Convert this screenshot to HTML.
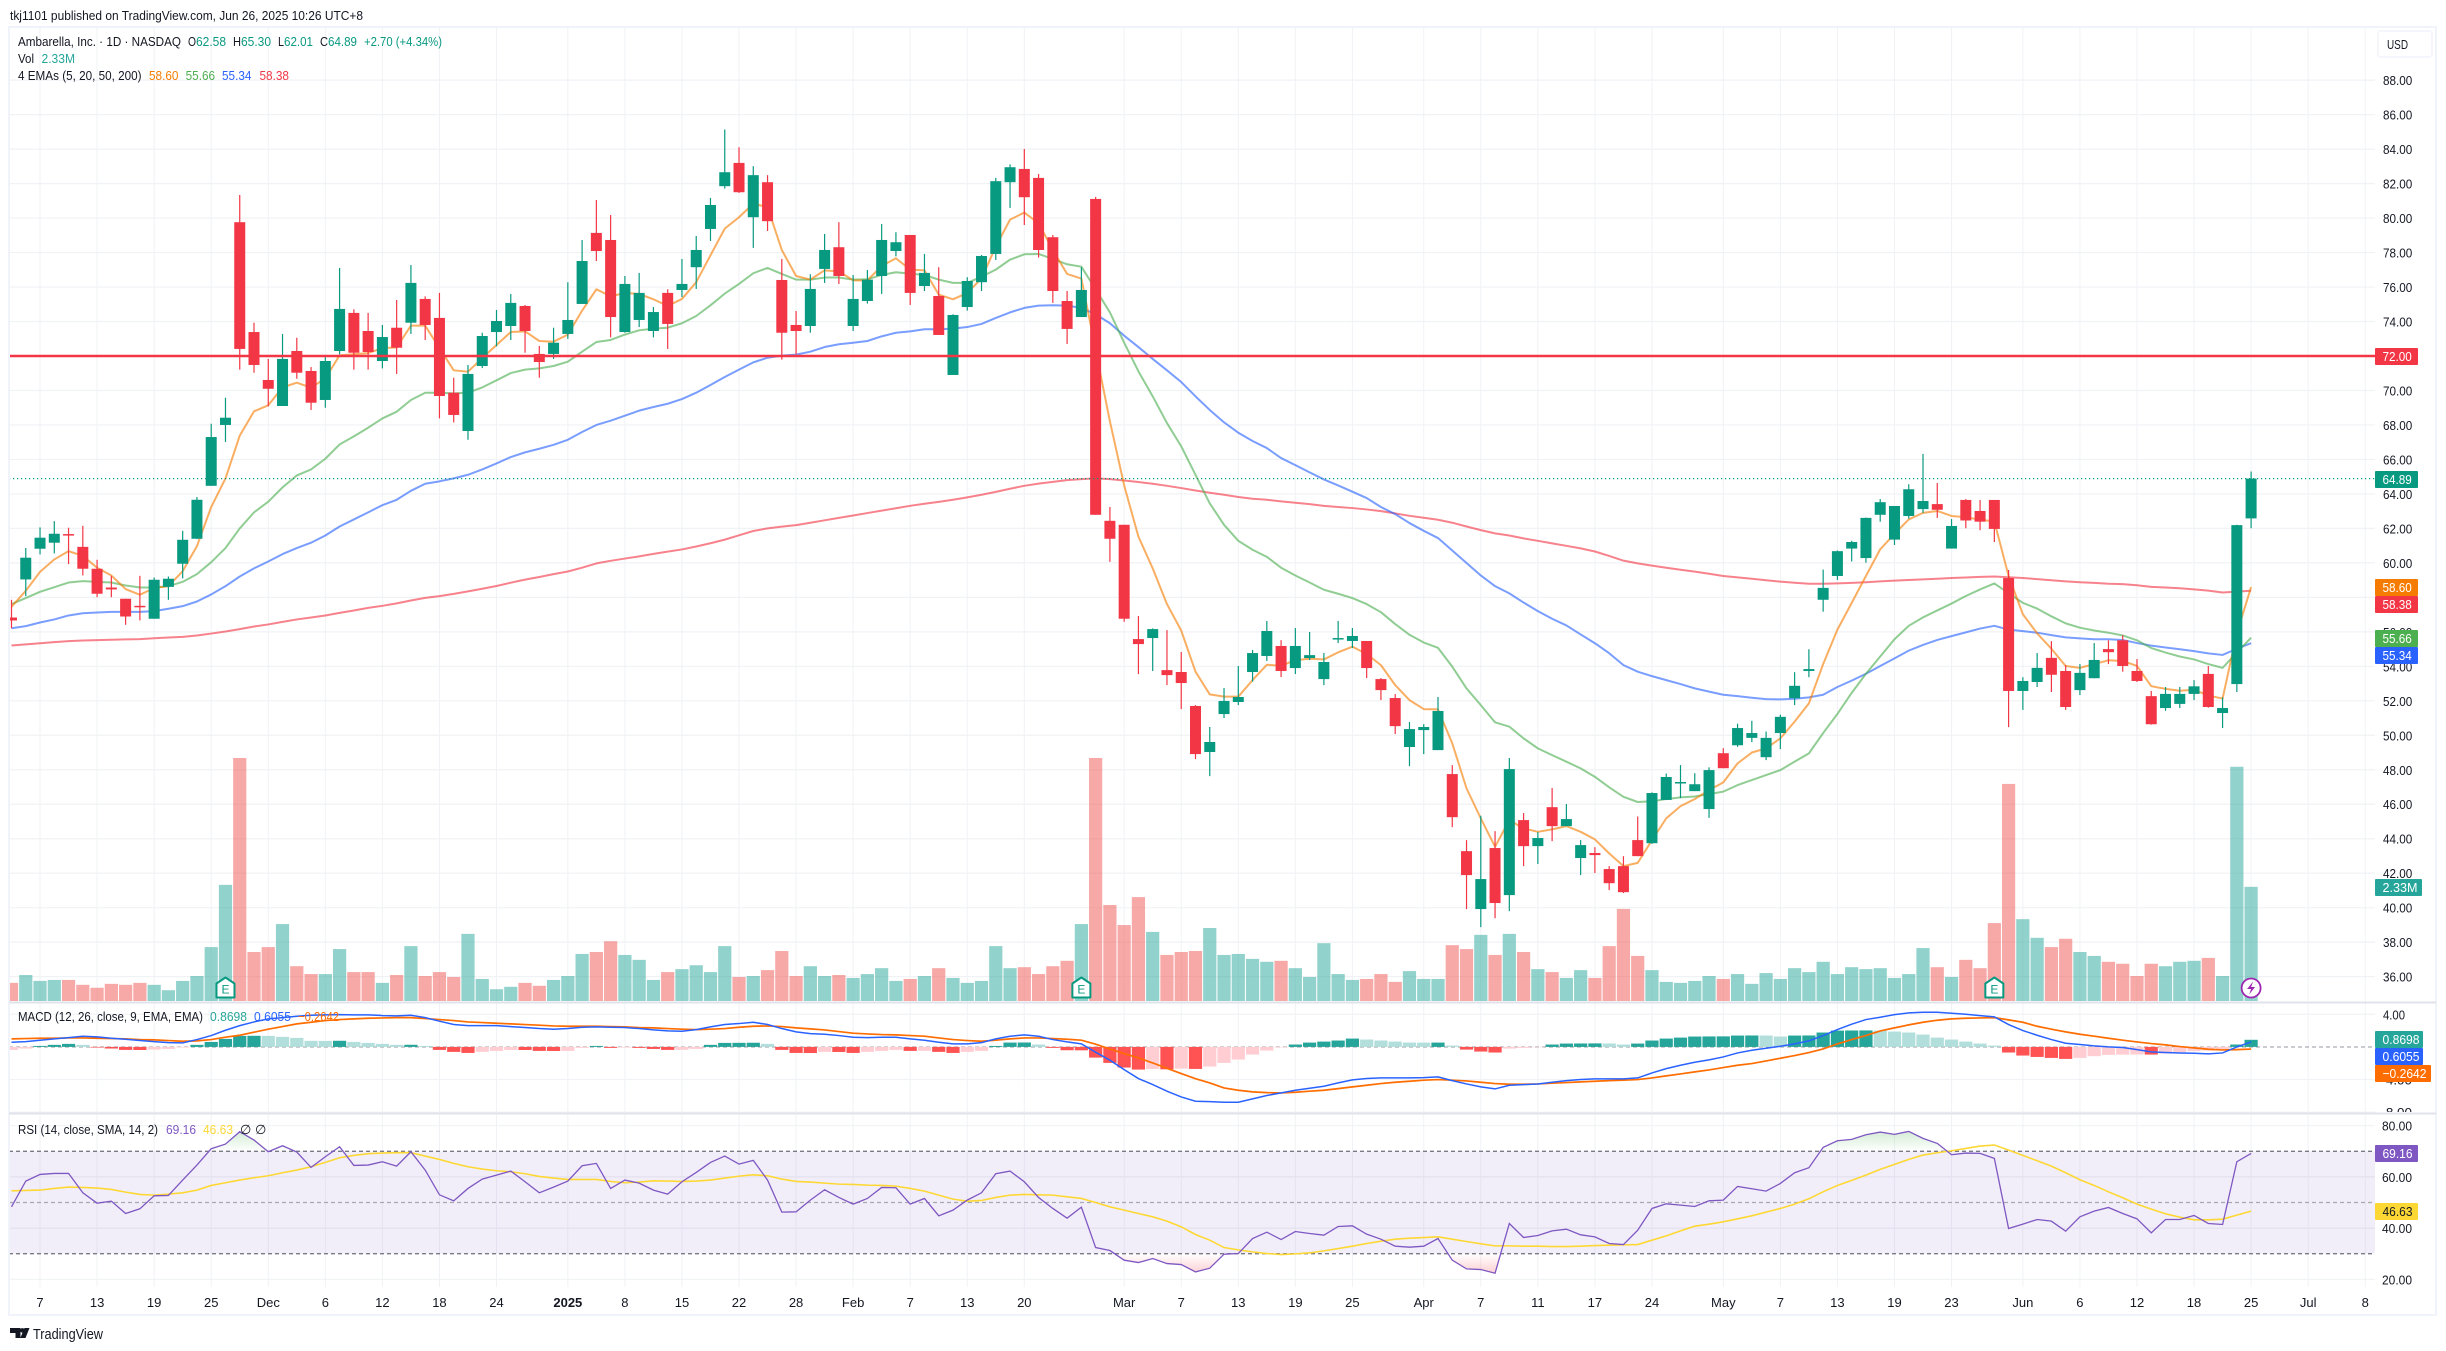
<!DOCTYPE html>
<html lang="en">
<head>
<meta charset="utf-8">
<title>Ambarella, Inc. daily chart</title>
<style>
html,body{margin:0;padding:0;background:#fff;}
body{width:2446px;height:1351px;overflow:hidden;}
svg{display:block;font-family:"Liberation Sans",sans-serif;}
text{fill:#131722;font-size:13px;}
</style>
</head>
<body>
<svg id="chart" xmlns="http://www.w3.org/2000/svg" width="2446" height="1351" viewBox="0 0 2446 1351">
  <defs>
    <clipPath id="clip-price"><rect x="9" y="28" width="2366" height="973"/></clipPath>
    <clipPath id="clip-macd"><rect x="9" y="1004" width="2366" height="108"/></clipPath>
    <clipPath id="clip-rsi"><rect x="9" y="1115" width="2366" height="172"/></clipPath>
    <clipPath id="clip-macd-axis"><rect x="2375" y="1004" width="60" height="108"/></clipPath>
    <clipPath id="clip-ob"><rect x="9" y="1115" width="2366" height="36.3"/></clipPath>
    <clipPath id="clip-os"><rect x="9" y="1253.7" width="2366" height="33"/></clipPath>
    <linearGradient id="grad-ob" gradientUnits="userSpaceOnUse" x1="0" y1="1128" x2="0" y2="1151.3"><stop offset="0" stop-color="#4caf50" stop-opacity=".28"/><stop offset="1" stop-color="#4caf50" stop-opacity="0"/></linearGradient>
    <linearGradient id="grad-os" gradientUnits="userSpaceOnUse" x1="0" y1="1253.7" x2="0" y2="1277"><stop offset="0" stop-color="#f23645" stop-opacity="0"/><stop offset="1" stop-color="#f23645" stop-opacity=".28"/></linearGradient>
  </defs>
  <rect x="0" y="0" width="2446" height="1351" fill="#ffffff"/>
  <text x="10" y="20" textLength="353" lengthAdjust="spacingAndGlyphs">tkj1101 published on TradingView.com, Jun 26, 2025 10:26 UTC+8</text>

  <g id="grid"></g>
  <rect x="9" y="1151.3" width="2366" height="102.4" fill="#7e57c2" fill-opacity=".1"/>

  <g id="volume" clip-path="url(#clip-price)"></g>
  <g id="emas" clip-path="url(#clip-price)"></g>
  <g id="candles" clip-path="url(#clip-price)"></g>
  <line x1="9" x2="2375" y1="478.6" y2="478.6" stroke="#089981" stroke-width="1.2" stroke-dasharray="1.2 2.8"/>
  <line x1="9" x2="2375" y1="356" y2="356" stroke="#f23645" stroke-width="2.5"/>

  <line x1="9" x2="2375" y1="1047" y2="1047" stroke="#9598a1" stroke-width="1" stroke-dasharray="4 3"/>
  <g id="macd" clip-path="url(#clip-macd)"></g>

  <line x1="9" x2="2375" y1="1151.3" y2="1151.3" stroke="#787b86" stroke-width="1.3" stroke-dasharray="4 3"/>
  <line x1="9" x2="2375" y1="1202.5" y2="1202.5" stroke="#a8a9b0" stroke-width="1.2" stroke-dasharray="4 3"/>
  <line x1="9" x2="2375" y1="1253.7" y2="1253.7" stroke="#787b86" stroke-width="1.3" stroke-dasharray="4 3"/>
  <g id="rsi" clip-path="url(#clip-rsi)"></g>

  <g id="markers"></g>

  <rect x="9" y="27" width="2427" height="1288" fill="none" stroke="#f0f3fa" stroke-width="2"/>
  <line x1="9" x2="2436" y1="1002.5" y2="1002.5" stroke="#e0e3eb" stroke-width="2"/>
  <line x1="9" x2="2436" y1="1113.5" y2="1113.5" stroke="#e0e3eb" stroke-width="2"/>

  <g id="axes"></g>

  <g>
    <rect x="2378" y="31" width="54" height="26" rx="3" fill="#fff" stroke="#f0f3fa" stroke-width="1.5"/>
    <text x="2387" y="49" textLength="21" lengthAdjust="spacingAndGlyphs">USD</text>
  </g>

  <g>
    <text x="18" y="46" textLength="163" lengthAdjust="spacingAndGlyphs">Ambarella, Inc. · 1D · NASDAQ</text>
    <text x="188" y="46" textLength="8" lengthAdjust="spacingAndGlyphs">O</text>
    <text x="196" y="46" textLength="30" lengthAdjust="spacingAndGlyphs" style="fill:#089981">62.58</text>
    <text x="233" y="46" textLength="8" lengthAdjust="spacingAndGlyphs">H</text>
    <text x="241" y="46" textLength="30" lengthAdjust="spacingAndGlyphs" style="fill:#089981">65.30</text>
    <text x="278" y="46" textLength="6" lengthAdjust="spacingAndGlyphs">L</text>
    <text x="284" y="46" textLength="29" lengthAdjust="spacingAndGlyphs" style="fill:#089981">62.01</text>
    <text x="320" y="46" textLength="8" lengthAdjust="spacingAndGlyphs">C</text>
    <text x="328" y="46" textLength="29" lengthAdjust="spacingAndGlyphs" style="fill:#089981">64.89</text>
    <text x="364" y="46" textLength="78" lengthAdjust="spacingAndGlyphs" style="fill:#089981">+2.70 (+4.34%)</text>
    <text x="18" y="63" textLength="16" lengthAdjust="spacingAndGlyphs">Vol</text>
    <text x="41.5" y="63" textLength="33.5" lengthAdjust="spacingAndGlyphs" style="fill:#26a69a">2.33M</text>
    <text x="18" y="80" textLength="123.5" lengthAdjust="spacingAndGlyphs">4 EMAs (5, 20, 50, 200)</text>
    <text x="149" y="80" textLength="29.5" lengthAdjust="spacingAndGlyphs" style="fill:#f57c00">58.60</text>
    <text x="185.6" y="80" textLength="29.5" lengthAdjust="spacingAndGlyphs" style="fill:#4caf50">55.66</text>
    <text x="222" y="80" textLength="29.5" lengthAdjust="spacingAndGlyphs" style="fill:#2962ff">55.34</text>
    <text x="259.5" y="80" textLength="29.5" lengthAdjust="spacingAndGlyphs" style="fill:#f23645">58.38</text>
  </g>
  <g>
    <text x="18" y="1021" textLength="185" lengthAdjust="spacingAndGlyphs">MACD (12, 26, close, 9, EMA, EMA)</text>
    <text x="210" y="1021" textLength="37" lengthAdjust="spacingAndGlyphs" style="fill:#26a69a">0.8698</text>
    <text x="254" y="1021" textLength="37" lengthAdjust="spacingAndGlyphs" style="fill:#2962ff">0.6055</text>
    <text x="298" y="1021" textLength="41" lengthAdjust="spacingAndGlyphs" style="fill:#ff6d00">−0.2642</text>
  </g>
  <g>
    <text x="18" y="1134" textLength="140" lengthAdjust="spacingAndGlyphs">RSI (14, close, SMA, 14, 2)</text>
    <text x="166" y="1134" textLength="30" lengthAdjust="spacingAndGlyphs" style="fill:#7e57c2">69.16</text>
    <text x="203" y="1134" textLength="30" lengthAdjust="spacingAndGlyphs" style="fill:#fdd835">46.63</text>
    <text x="240" y="1134">∅</text>
    <text x="255" y="1134">∅</text>
  </g>

  <g>
    <path d="M10 1328h10.5v10h-5v-5H10z" fill="#131722"/>
    <path d="M24.5 1328h5l-4 10h-5.2z" fill="#131722"/>
    <circle cx="22.4" cy="1330.4" r="2.3" fill="#131722"/>
    <text x="33" y="1339" textLength="70" lengthAdjust="spacingAndGlyphs" style="font-size:15px">TradingView</text>
  </g>
</svg>
<script>
var priceTicks = [88,86,84,82,80,78,76,74,72,70,68,66,64,62,60,58,56,54,52,50,48,46,44,42,40,38,36];
var macdTicks = [4,-4,-8];
var rsiTicks = [80,60,40,20];
var timeLabels = ['7','13','19','25','Dec','6','12','18','24','2025','8','15','22','28','Feb','7','13','20','Mar','7','13','19','25','Apr','7','11','17','24','May','7','13','19','23','Jun','6','12','18','25','Jul','8'];
var timeBars = [2,6,10,14,18,22,26,30,34,39,43,47,51,55,59,63,67,71,78,82,86,90,94,99,103,107,111,115,120,124,128,132,136,141,145,149,153,157,161,165];
var earningsBars = [15,75,139];
var dividendFlashBars = [157];

var opens = [56.83,59.04,60.82,61.17,61.67,60.93,59.66,58.57,57.92,57.51,56.76,58.61,59.95,61.40,64.47,68.00,79.76,73.39,70.61,69.10,
72.29,71.13,69.45,72.29,74.50,73.45,71.71,73.64,73.93,75.31,74.21,69.87,67.65,71.42,73.39,73.74,74.90,72.12,72.12,73.28,
75.02,79.14,78.73,73.39,74.09,73.45,75.66,75.83,77.15,79.37,81.85,83.20,80.05,82.08,76.41,73.80,73.74,77.05,78.31,73.74,
75.19,76.64,78.09,79.02,76.06,75.48,70.90,74.84,76.28,77.92,82.08,82.85,82.33,78.89,75.19,74.26,81.11,62.44,62.21,55.58,
55.64,53.78,53.67,51.70,49.03,51.23,51.93,53.67,54.60,55.18,53.90,54.48,53.26,55.60,55.47,55.47,53.26,52.16,49.32,50.30,
49.14,47.75,43.28,39.92,43.46,40.73,45.08,43.57,45.83,44.73,42.88,43.17,42.24,42.41,43.92,43.74,46.25,47.23,46.76,45.72,
48.96,49.42,49.85,48.73,50.13,52.15,53.73,57.86,59.24,60.83,60.28,62.79,61.35,62.72,63.12,63.41,60.83,63.65,63.01,63.65,
59.12,52.57,53.09,54.49,53.73,52.62,53.31,55.00,55.51,53.73,52.27,51.58,51.82,52.40,53.56,51.29,52.97,62.58];
var highs = [57.86,60.86,62.06,62.42,62.04,62.15,60.18,59.25,57.92,59.25,59.15,59.21,61.86,63.82,68.07,69.58,81.34,73.93,71.83,73.28,
73.06,71.36,71.94,77.11,74.71,74.50,73.80,75.25,77.28,75.46,75.66,70.74,71.48,73.35,74.67,75.60,74.96,72.58,73.64,76.28,
78.73,81.05,80.18,76.64,76.82,74.84,75.87,77.63,78.96,81.17,85.14,84.11,83.01,82.49,77.63,74.61,76.74,79.08,79.76,76.70,
76.99,79.66,79.18,79.02,77.92,77.15,74.42,76.57,77.86,82.33,83.12,84.01,82.56,79.02,75.77,77.15,81.23,63.24,62.21,56.92,
56.20,56.10,54.83,51.75,50.48,52.74,54.02,54.95,56.63,55.52,56.22,55.99,54.77,56.63,56.22,55.47,53.32,52.39,50.77,50.65,
52.22,48.27,43.92,45.33,44.44,48.68,45.49,44.38,46.94,46.01,43.92,43.51,42.41,42.99,45.29,46.69,47.78,48.27,47.80,48.14,
49.25,50.67,50.84,50.22,51.20,53.66,54.99,59.61,60.72,61.28,62.63,63.70,63.30,64.56,66.32,64.63,62.54,63.70,63.65,63.65,
59.59,53.37,54.77,55.46,54.06,54.13,55.35,55.51,55.80,54.42,52.57,52.80,52.80,53.20,54.02,52.20,62.21,65.30];
var lows = [56.21,58.07,60.49,60.55,59.93,59.27,58.01,58.01,56.41,56.66,56.76,57.86,59.10,61.38,64.47,67.01,71.21,71.03,69.08,69.10,
70.68,68.87,69.00,72.10,71.21,71.21,71.28,70.96,73.28,72.93,68.38,68.15,67.14,71.30,72.56,72.93,72.19,70.74,71.83,72.99,
75.02,77.51,73.08,73.35,73.68,73.08,72.41,75.42,75.89,78.67,81.71,81.46,78.27,79.25,71.79,72.10,73.35,76.24,76.18,73.45,
75.04,75.60,77.78,74.96,75.77,73.22,70.90,74.63,75.77,77.57,80.59,79.60,77.71,75.08,72.70,74.26,62.79,60.06,56.58,53.55,
53.73,52.91,51.52,48.62,47.63,51.00,51.75,53.11,54.31,53.38,53.55,54.36,52.91,55.35,55.06,53.32,52.04,50.07,48.21,48.91,
49.14,44.67,39.92,38.87,39.39,39.80,42.41,42.53,43.86,44.73,41.89,42.01,41.02,40.85,42.99,43.70,46.25,46.36,46.76,45.21,
48.09,49.33,49.60,48.56,49.20,51.75,53.37,57.17,59.01,60.08,60.01,62.39,61.04,62.57,62.90,62.61,60.83,62.01,61.90,61.21,
50.47,51.47,52.80,52.51,51.47,52.33,53.31,54.13,53.69,53.09,50.62,51.42,51.58,52.04,51.60,50.42,52.51,62.01];
var closes = [56.66,60.30,61.46,61.69,61.63,59.66,58.21,58.46,56.89,57.47,59.02,59.08,61.34,63.66,67.30,68.42,72.41,71.48,70.10,71.83,
71.03,69.29,71.71,74.73,72.19,72.23,73.10,72.48,76.24,73.80,69.68,68.58,70.96,73.16,74.03,75.08,73.45,71.65,72.77,74.09,
77.51,78.09,74.26,76.18,75.66,74.55,73.86,76.18,78.15,80.76,82.66,81.50,82.49,79.82,73.35,73.45,75.89,78.15,76.64,75.31,
76.43,78.73,78.60,75.66,76.82,73.22,74.38,76.35,77.80,82.14,82.95,81.21,78.15,75.77,73.57,75.83,62.79,61.40,56.76,55.29,
56.16,53.49,53.03,48.91,49.61,51.99,52.22,54.77,56.05,53.73,55.18,54.65,54.25,55.64,55.76,53.90,52.62,50.53,50.36,50.48,
51.41,45.25,41.89,41.66,40.27,48.04,43.57,44.04,44.73,45.14,43.63,43.05,41.42,40.90,42.99,46.65,47.58,47.29,47.16,47.98,
48.09,50.42,50.13,49.85,51.07,52.87,53.84,58.55,60.68,61.21,62.61,63.52,63.30,64.27,63.59,63.08,62.14,62.46,62.39,61.97,
52.57,53.15,53.91,53.51,51.64,53.62,54.37,54.82,54.02,53.15,50.64,52.40,52.40,52.84,51.64,51.58,62.19,64.89];
var volumes = [.37,.53,.41,.43,.43,.33,.27,.35,.33,.37,.33,.22,.41,.51,1.10,2.37,4.96,1.00,1.10,1.57,
.71,.55,.55,1.06,.59,.59,.37,.53,1.12,.51,.59,.49,1.37,.45,.24,.29,.37,.31,.43,.51,
.96,1.00,1.22,.94,.84,.43,.59,.65,.73,.59,1.12,.49,.51,.63,1.02,.51,.71,.51,.53,.47,
.55,.67,.41,.45,.51,.67,.47,.37,.41,1.12,.67,.69,.55,.71,.82,1.57,4.96,1.96,1.55,2.12,
1.41,.94,1.00,1.02,1.49,.94,.96,.86,.80,.82,.67,.49,1.18,.55,.43,.45,.55,.39,.61,.45,
.45,1.14,1.06,1.35,.94,1.37,1.00,.65,.59,.47,.63,.47,1.12,1.88,.92,.63,.39,.37,.41,.51,
.45,.55,.35,.57,.45,.67,.59,.80,.55,.69,.65,.67,.47,.55,1.08,.69,.49,.84,.67,1.59,
4.43,1.67,1.29,1.10,1.27,1.00,.92,.80,.76,.51,.76,.71,.80,.82,.88,.51,4.78,2.33];

var ema5 = [57.45,58.38,59.48,60.20,60.68,60.41,59.72,59.27,58.48,58.15,58.54,58.65,59.52,60.97,63.24,64.90,67.38,68.79,69.14,70.18,
70.45,70.16,70.70,72.04,72.10,72.17,72.46,72.50,73.76,73.76,72.46,71.17,71.09,71.88,72.64,73.39,73.43,72.87,72.83,73.24,
74.63,75.87,75.46,75.66,75.60,75.29,74.90,75.31,76.28,77.84,79.39,80.05,80.84,80.63,78.15,76.64,76.43,76.97,76.91,76.39,
76.39,77.22,77.67,77.01,76.97,75.56,75.29,75.66,76.49,78.35,79.91,80.32,79.70,78.15,76.76,76.49,72.35,68.21,64.49,61.52,
59.68,57.61,56.07,53.69,52.37,52.24,52.24,53.20,54.09,54.03,54.36,54.44,54.40,54.81,55.14,54.71,54.07,52.91,52.04,51.52,
51.50,49.53,46.92,45.18,43.53,45.08,44.60,44.40,44.54,44.73,44.40,43.96,43.15,42.41,42.60,43.92,45.18,45.89,46.30,46.82,
47.27,48.37,49.00,49.24,49.82,50.79,51.85,54.13,56.13,57.68,59.24,60.79,61.68,62.52,62.90,63.01,62.72,62.65,62.50,62.41,
59.24,57.02,55.91,55.02,54.02,53.91,54.13,54.35,54.31,54.02,52.85,52.69,52.58,52.64,52.31,52.13,55.91,58.60];
var ema20 = [57.61,57.96,58.32,58.59,58.86,58.94,58.90,58.86,58.69,58.57,58.57,58.65,58.90,59.35,60.04,60.86,62.00,62.93,63.55,64.38,
65.07,65.42,66.04,66.87,67.34,67.84,68.38,68.77,69.45,69.87,69.87,69.83,69.87,70.18,70.59,71.01,71.21,71.28,71.42,71.67,
72.25,72.81,72.93,73.24,73.49,73.59,73.64,73.90,74.32,74.94,75.62,76.18,76.80,77.11,76.76,76.43,76.43,76.55,76.55,76.43,
76.45,76.70,76.86,76.78,76.70,76.43,76.24,76.24,76.60,77.01,77.59,77.90,77.92,77.63,77.32,77.18,75.87,74.53,72.77,71.11,
69.66,68.11,66.76,65.11,63.45,62.21,61.28,60.76,60.35,59.72,59.27,58.86,58.44,58.21,57.96,57.61,57.14,56.45,55.83,55.38,
55.07,53.98,52.72,51.75,50.75,50.50,49.82,49.24,48.85,48.47,48.08,47.59,46.98,46.43,46.13,46.17,46.30,46.40,46.45,46.59,
46.73,47.11,47.40,47.69,47.98,48.47,48.95,50.13,51.24,52.46,53.57,54.57,55.57,56.35,56.84,57.24,57.64,58.08,58.46,58.81,
58.24,57.68,57.35,56.90,56.49,56.24,56.08,55.95,55.79,55.51,55.06,54.80,54.57,54.40,54.13,53.91,54.80,55.66];
var ema50 = [56.21,56.33,56.54,56.72,56.95,57.08,57.12,57.16,57.16,57.16,57.20,57.34,57.49,57.76,58.17,58.65,59.21,59.68,60.08,60.51,
60.86,61.17,61.59,62.11,62.52,62.93,63.35,63.66,64.18,64.59,64.73,64.90,65.11,65.42,65.77,66.14,66.41,66.62,66.85,67.14,
67.59,68.00,68.25,68.54,68.83,69.04,69.23,69.50,69.87,70.32,70.78,71.21,71.63,71.90,72.02,72.08,72.25,72.52,72.68,72.77,
72.87,73.14,73.35,73.43,73.55,73.55,73.59,73.68,73.86,74.21,74.53,74.79,74.92,74.94,74.92,74.79,74.42,73.90,73.18,72.52,
71.83,71.17,70.49,69.66,68.87,68.15,67.55,67.07,66.66,66.08,65.67,65.25,64.84,64.49,64.13,63.76,63.24,62.83,62.31,61.86,
61.44,60.72,59.99,59.27,58.65,58.23,57.70,57.20,56.76,56.37,55.85,55.34,54.76,54.07,53.69,53.43,53.20,52.97,52.72,52.53,
52.35,52.27,52.18,52.10,52.08,52.12,52.20,52.35,52.80,53.17,53.57,54.02,54.46,54.91,55.24,55.53,55.75,55.97,56.19,56.35,
56.13,56.04,55.95,55.81,55.68,55.62,55.57,55.57,55.53,55.35,55.20,55.09,54.99,54.88,54.75,54.66,55.02,55.34];
var ema200 = [55.21,55.27,55.34,55.40,55.46,55.50,55.52,55.54,55.56,55.58,55.63,55.67,55.71,55.79,55.90,56.02,56.16,56.31,56.43,56.58,
56.72,56.83,56.95,57.10,57.24,57.39,57.51,57.65,57.82,57.97,58.07,58.20,58.35,58.50,58.66,58.85,59.03,59.18,59.35,59.50,
59.72,59.97,60.12,60.25,60.38,60.52,60.65,60.78,60.95,61.14,61.35,61.60,61.85,62.00,62.10,62.19,62.33,62.47,62.61,62.75,
62.89,63.03,63.17,63.31,63.43,63.54,63.66,63.80,63.95,64.12,64.30,64.47,64.60,64.70,64.80,64.86,64.90,64.86,64.78,64.69,
64.59,64.47,64.34,64.20,64.07,63.95,63.82,63.72,63.66,63.57,63.49,63.41,63.31,63.24,63.18,63.10,63.00,62.87,62.73,62.62,
62.50,62.33,62.11,61.90,61.71,61.59,61.42,61.28,61.13,60.99,60.84,60.66,60.40,60.13,59.97,59.84,59.72,59.60,59.49,59.37,
59.24,59.16,59.08,58.99,58.91,58.85,58.79,58.79,58.81,58.84,58.88,58.93,58.97,59.01,59.04,59.08,59.12,59.15,59.19,59.21,
59.17,59.12,59.06,58.99,58.93,58.88,58.84,58.79,58.77,58.70,58.61,58.57,58.53,58.46,58.39,58.28,58.33,58.38];

var macdLine = [.57,.65,.82,.98,1.14,1.31,1.23,1.06,.94,.78,.65,.53,.49,.90,1.39,2.04,2.61,3.06,3.43,3.59,
3.76,3.88,3.92,3.96,3.92,3.92,3.84,3.80,3.88,3.59,3.15,2.74,2.61,2.61,2.61,2.49,2.37,2.25,2.17,2.25,
2.41,2.45,2.41,2.37,2.25,2.08,1.96,1.92,2.12,2.45,2.74,2.86,3.02,2.74,2.25,1.84,1.63,1.55,1.39,1.18,
1.14,1.18,1.18,.98,.82,.57,.37,.37,.53,.98,1.31,1.47,1.31,.90,.61,.37,-.65,-1.63,-2.78,-3.88,
-4.62,-5.43,-6.13,-6.66,-6.70,-6.78,-6.78,-6.37,-5.96,-5.64,-5.31,-5.07,-4.82,-4.41,-4.04,-3.88,-3.80,-3.80,-3.80,-3.76,
-3.68,-4.13,-4.54,-4.90,-5.15,-4.70,-4.62,-4.54,-4.33,-4.13,-4.00,-3.92,-3.92,-3.92,-3.80,-3.19,-2.66,-2.25,-1.88,-1.59,
-1.23,-.74,-.41,-.16,.08,.37,.74,1.39,2.12,2.78,3.35,3.64,3.96,4.17,4.25,4.25,4.13,4.00,3.84,3.68,
2.74,2.00,1.43,.90,.45,.29,.12,0,-.08,-.33,-.61,-.69,-.74,-.78,-.86,-.74,0,.6055];
var macdSignal = [.98,1.02,1.06,1.06,1.10,1.10,1.06,1.02,.98,.90,.86,.78,.69,.74,.90,1.19,1.43,1.80,2.17,2.49,
2.82,3.02,3.23,3.35,3.43,3.51,3.55,3.59,3.59,3.47,3.35,3.23,3.06,2.98,2.90,2.82,2.74,2.66,2.57,2.53,
2.53,2.53,2.49,2.45,2.37,2.33,2.25,2.17,2.12,2.17,2.25,2.41,2.53,2.57,2.49,2.33,2.21,2.08,1.88,1.68,
1.59,1.51,1.47,1.39,1.31,1.10,.90,.78,.69,.82,.98,1.10,1.10,1.02,.94,.82,.33,-.25,-.82,-1.35,
-1.96,-2.62,-3.27,-3.89,-4.41,-5.03,-5.31,-5.51,-5.60,-5.64,-5.56,-5.43,-5.31,-5.11,-4.90,-4.70,-4.49,-4.33,-4.21,-4.08,
-4.00,-4.08,-4.17,-4.33,-4.49,-4.58,-4.58,-4.54,-4.45,-4.37,-4.29,-4.21,-4.13,-4.08,-4.00,-3.80,-3.55,-3.31,-3.06,-2.82,
-2.53,-2.25,-2.04,-1.72,-1.39,-1.06,-.69,-.25,.37,.90,1.39,1.96,2.33,2.70,3.02,3.27,3.43,3.51,3.55,3.59,
3.31,3.02,2.53,2.17,1.84,1.55,1.31,1.06,.82,.61,.41,.25,.04,-.12,-.29,-.37,-.33,-.2642];
var macdHist = [-.37,-.20,.12,.25,.37,.25,-.08,-.20,-.37,-.38,-.33,-.25,-.08,.25,.61,.98,1.35,1.36,1.35,1.23,
1.10,.74,.73,.75,.61,.49,.37,.25,.26,.12,-.37,-.61,-.74,-.61,-.49,-.37,-.38,-.49,-.50,-.49,
-.12,.12,-.12,-.08,-.12,-.25,-.37,-.36,-.25,.25,.49,.50,.51,.37,-.37,-.74,-.75,-.61,-.62,-.74,
-.61,-.49,-.37,-.49,-.48,-.61,-.74,-.61,-.49,.12,.53,.54,.29,-.12,-.41,-.42,-1.31,-1.96,-2.53,-2.78,
-2.70,-2.75,-2.66,-2.70,-2.41,-1.96,-1.55,-.94,-.45,-.06,.29,.53,.65,.78,1.02,.90,.78,.65,.53,.52,
.53,.16,-.33,-.57,-.69,-.20,-.12,-.04,.29,.41,.42,.43,.42,.29,.41,.78,1.02,1.14,1.27,1.28,
1.29,1.39,1.40,1.39,1.27,1.39,1.40,1.76,2.00,2.01,2.02,2.00,1.88,1.76,1.51,1.14,.90,.65,.41,.16,
-.69,-1.06,-1.23,-1.35,-1.47,-1.35,-1.14,-.98,-.94,-.93,-.94,-.82,-.65,-.53,-.45,-.37,.29,.8698];

var rsiLine = [48.32,58.36,60.96,61.36,61.36,53.79,49.75,50.53,45.71,47.54,52.62,52.75,58.75,64.62,71.00,72.83,77.65,74.39,69.83,72.18,
69.70,63.70,67.87,71.79,64.49,64.62,65.92,64.22,69.83,62.66,53.01,50.66,55.49,59.14,60.70,62.27,58.10,53.79,56.01,58.36,
64.35,65.27,55.49,58.75,57.57,54.84,53.27,58.10,61.75,65.66,68.14,65.01,66.44,58.75,46.23,46.36,50.93,54.97,51.97,49.36,
51.58,55.88,55.75,49.36,51.58,44.80,47.01,50.93,53.79,61.23,62.27,58.10,51.97,47.67,43.89,48.19,32.41,31.24,27.46,26.54,
28.11,26.15,25.76,22.89,24.33,29.80,30.07,35.93,38.41,35.54,38.67,37.89,37.24,40.63,40.89,37.63,35.67,32.93,32.54,32.93,
35.93,27.46,24.07,23.81,22.37,41.80,36.32,37.11,38.93,39.58,37.37,36.58,33.98,33.58,39.19,47.67,49.49,48.97,48.45,50.66,
50.93,56.27,55.36,54.45,57.44,61.62,63.57,71.53,74.13,74.65,76.48,77.52,76.61,77.78,75.05,73.09,68.66,69.31,69.18,67.22,
39.84,41.54,43.36,42.71,38.80,44.41,46.62,48.06,45.71,43.62,38.15,43.36,43.36,44.93,41.80,41.41,65.92,69.16];
var rsiMa = [54.58,54.71,54.84,55.49,56.01,55.88,55.62,55.10,54.05,53.14,52.88,53.27,53.79,54.84,56.66,57.71,58.75,59.66,60.44,61.62,
62.66,63.96,65.66,67.48,68.40,69.05,69.31,69.44,69.44,68.14,66.83,65.27,63.96,63.05,62.40,62.01,61.23,60.18,59.53,59.01,
59.01,59.01,58.23,57.71,57.97,58.49,58.36,58.23,58.36,58.75,59.53,60.31,60.83,60.44,59.14,58.23,57.97,57.57,57.18,57.05,
56.79,56.66,56.40,55.49,54.45,52.88,51.32,50.53,50.79,51.97,52.88,53.14,53.01,52.88,52.23,51.58,50.01,48.32,47.01,45.71,
44.41,42.71,40.50,37.50,35.28,32.41,31.50,30.72,30.07,29.67,29.93,30.33,31.11,32.02,32.93,33.98,34.89,35.67,36.06,36.32,
36.58,35.67,34.76,33.85,33.06,33.06,32.93,32.93,32.80,32.80,32.93,33.19,33.32,33.45,33.58,35.28,36.97,38.93,40.76,41.54,
42.45,43.62,44.80,46.23,47.67,49.36,51.45,54.18,56.66,58.62,60.70,62.92,64.88,66.83,68.53,69.44,70.22,71.13,72.05,72.44,
70.48,68.40,66.31,64.22,61.62,58.88,56.66,54.18,51.84,49.36,47.41,45.58,44.28,43.23,43.23,43.49,45.06,46.63];

var SVG_NS = 'http://www.w3.org/2000/svg';
function make(tag, parent) {
  var node = document.createElementNS(SVG_NS, tag);
  parent.appendChild(node);
  return node;
}
function set(node, props) {
  for (var key in props) { node.setAttribute(key, props[key]); }
  return node;
}
function barX(i) { return 11.5 + 14.265 * i; }
function priceY(p) { return 356 + (72 - p) * 17.24; }
function volumeY(v) { return 1001 - v * 49; }
function macdY(v) { return 1046.9 - v * 8.16; }
function rsiY(v) { return 1125.7 + (80 - v) * 2.56; }
function linePath(values, yFn) {
  var d = '';
  for (var i = 0; i < values.length; i++) {
    d += (i ? 'L' : 'M') + barX(i).toFixed(2) + ' ' + yFn(values[i]).toFixed(2);
  }
  return d;
}

var grid = document.getElementById('grid');
var volG = document.getElementById('volume');
var emaG = document.getElementById('emas');
var candleG = document.getElementById('candles');
var macdG = document.getElementById('macd');
var rsiG = document.getElementById('rsi');
var markerG = document.getElementById('markers');
var axesG = document.getElementById('axes');
var GRID_COLOR = '#f0f2f5';
var el;

timeBars.forEach(function (bar) {
  el = make('line', grid);
  
  
  set(el, {x1: barX(bar), x2: barX(bar), y1: 28, y2: 1287, stroke: GRID_COLOR, 'stroke-width': 1});
});
priceTicks.forEach(function (p) {
  el = make('line', grid);
  
  
  set(el, {x1: 9, x2: 2375, y1: priceY(p), y2: priceY(p), stroke: GRID_COLOR, 'stroke-width': 1.2});
});
macdTicks.forEach(function (v) {
  el = make('line', grid);
  
  
  set(el, {x1: 9, x2: 2375, y1: macdY(v), y2: macdY(v), stroke: GRID_COLOR, 'stroke-width': 1.2});
});
rsiTicks.forEach(function (v) {
  el = make('line', grid);
  
  
  set(el, {x1: 9, x2: 2375, y1: rsiY(v), y2: rsiY(v), stroke: GRID_COLOR, 'stroke-width': 1.2});
});

volumes.forEach(function (v, i) {
  el = make('rect', volG);
  
  
  set(el, {x: barX(i) - 6.6, y: volumeY(v), width: 13.2, height: 1001 - volumeY(v),
    fill: closes[i] >= opens[i] ? '#26a69a' : '#ef5350', 'fill-opacity': .5});
});

[[ema200, '#f23645', 'ema-200-line'], [ema50, '#2962ff', 'ema-50-line'], [ema20, '#4caf50', 'ema-20-line'], [ema5, '#f57c00', 'ema-5-line']].forEach(function (s) {
  el = make('path', emaG);
  
  
  set(el, {d: linePath(s[0], priceY), fill: 'none', stroke: s[1], 'stroke-width': 2, 'stroke-opacity': .62, 'stroke-linejoin': 'round'});
});

closes.forEach(function (c, i) {
  var up = c >= opens[i];
  var color = up ? '#089981' : '#f23645';
  var x = barX(i);
  var top = priceY(Math.max(opens[i], c));
  var bottom = priceY(Math.min(opens[i], c));
  el = make('line', candleG);
  
  
  set(el, {x1: x, x2: x, y1: priceY(highs[i]), y2: priceY(lows[i]), stroke: color, 'stroke-width': 1.2});
  el = make('rect', candleG);
  
  
  set(el, {x: x - 5.5, y: top, width: 11, height: Math.max(1.5, bottom - top), fill: color});
});

macdHist.forEach(function (h, i) {
  var prev = i ? macdHist[i - 1] : h - (h >= 0 ? -1 : 1);
  var color = h >= 0 ? (h > prev ? '#26a69a' : '#b2dfdb') : (h < prev ? '#ff5252' : '#ffcdd2');
  el = make('rect', macdG);
  
  
  set(el, {x: barX(i) - 6.6, y: Math.min(macdY(h), macdY(0)), width: 13.2, height: Math.abs(macdY(h) - macdY(0)), fill: color});
});
el = make('path', macdG);


set(el, {d: linePath(macdSignal, macdY), fill: 'none', stroke: '#ff6d00', 'stroke-width': 1.7});
el = make('path', macdG);


set(el, {d: linePath(macdLine, macdY), fill: 'none', stroke: '#2962ff', 'stroke-width': 1.5});

var areaBase = linePath(rsiLine, rsiY);
var rsiEnd = barX(rsiLine.length - 1).toFixed(2);
var rsiStart = barX(0).toFixed(2);
el = make('path', rsiG);


set(el, {d: areaBase + 'L' + rsiEnd + ' ' + rsiY(70) + 'L' + rsiStart + ' ' + rsiY(70) + 'Z', fill: 'url(#grad-ob)', 'clip-path': 'url(#clip-ob)'});
el = make('path', rsiG);


set(el, {d: areaBase + 'L' + rsiEnd + ' ' + rsiY(30) + 'L' + rsiStart + ' ' + rsiY(30) + 'Z', fill: 'url(#grad-os)', 'clip-path': 'url(#clip-os)'});
el = make('path', rsiG);


set(el, {d: linePath(rsiMa, rsiY), fill: 'none', stroke: '#fdd835', 'stroke-width': 1.6});
el = make('path', rsiG);


set(el, {d: areaBase, fill: 'none', stroke: '#7e57c2', 'stroke-width': 1.3});

earningsBars.forEach(function (bar) {
  var x = barX(bar);
  el = make('path', markerG);
  
  
  set(el, {d: 'M' + x + ' 977.5l9 6v14h-18v-14z', fill: '#ffffff', stroke: '#089981', 'stroke-width': 2, 'stroke-linejoin': 'round'});
  el = make('text', markerG);
  
  
  set(el, {x: x, y: 993.5, 'text-anchor': 'middle', style: 'fill:#089981;font-size:12px;'});
  el.textContent = 'E';
});
dividendFlashBars.forEach(function (bar) {
  var x = barX(bar);
  el = make('circle', markerG);
  
  
  set(el, {cx: x, cy: 988, r: 9.5, fill: '#ffffff', stroke: '#9c27b0', 'stroke-width': 1.8});
  el = make('path', markerG);
  
  
  set(el, {d: 'M' + (x + 2) + ' 981.5l-6 7.5h4l-2 5.5 6-7.5h-4z', fill: '#9c27b0'});
});

priceTicks.forEach(function (p) {
  el = make('text', axesG);
  
  
  set(el, {x: 2383, y: priceY(p) + 5, textLength: 29.3, lengthAdjust: 'spacingAndGlyphs'});
  el.textContent = p.toFixed(2);
});
macdTicks.forEach(function (v) {
  el = make('text', axesG);
  
  
  set(el, {x: v < 0 ? 2378 : 2383, y: macdY(v) + 5, textLength: v < 0 ? 34 : 22, lengthAdjust: 'spacingAndGlyphs', 'clip-path': 'url(#clip-macd-axis)'});
  el.textContent = (v < 0 ? '\u2212' : '') + Math.abs(v).toFixed(2);
});
rsiTicks.forEach(function (v) {
  el = make('text', axesG);
  
  
  set(el, {x: 2382, y: rsiY(v) + 5, textLength: 30, lengthAdjust: 'spacingAndGlyphs'});
  el.textContent = v.toFixed(2);
});
timeLabels.forEach(function (label, i) {
  el = make('text', axesG);
  
  
  set(el, {x: barX(timeBars[i]), y: 1307, 'text-anchor': 'middle', style: 'font-size:13px;' + (label === '2025' ? 'font-weight:bold;' : '')});
  el.textContent = label;
});

var tagTexts = ['72.00','64.89','58.60','58.38','55.66','55.34','2.33M','0.8698','0.6055','\u22120.2642','69.16','46.63'];
var tagTops = [348,471,579,596,630,647,879,1031,1048,1065,1145,1203];
var tagFills = ['#f23645','#089981','#f57c00','#f23645','#4caf50','#2962ff','#26a69a','#26a69a','#2962ff','#ff6d00','#7e57c2','#fdd835'];
var tagWidths = [43,43,43,43,43,43,47,48,48,56,43,43];
var tagInkWidths = [29.3,29.3,29.3,29.3,29.3,29.3,35,37,37,44,30,30];
tagTexts.forEach(function (label, i) {
  el = make('rect', axesG);
  
  
  set(el, {x: 2375, y: tagTops[i], width: tagWidths[i], height: 17, rx: 1, fill: tagFills[i]});
  el = make('text', axesG);
  
  
  set(el, {x: 2382.5, y: tagTops[i] + 13, textLength: tagInkWidths[i], lengthAdjust: 'spacingAndGlyphs', style: 'fill:' + (tagFills[i] === '#fdd835' ? '#131722' : '#ffffff')});
  el.textContent = label;
});
</script>
</body>
</html>
